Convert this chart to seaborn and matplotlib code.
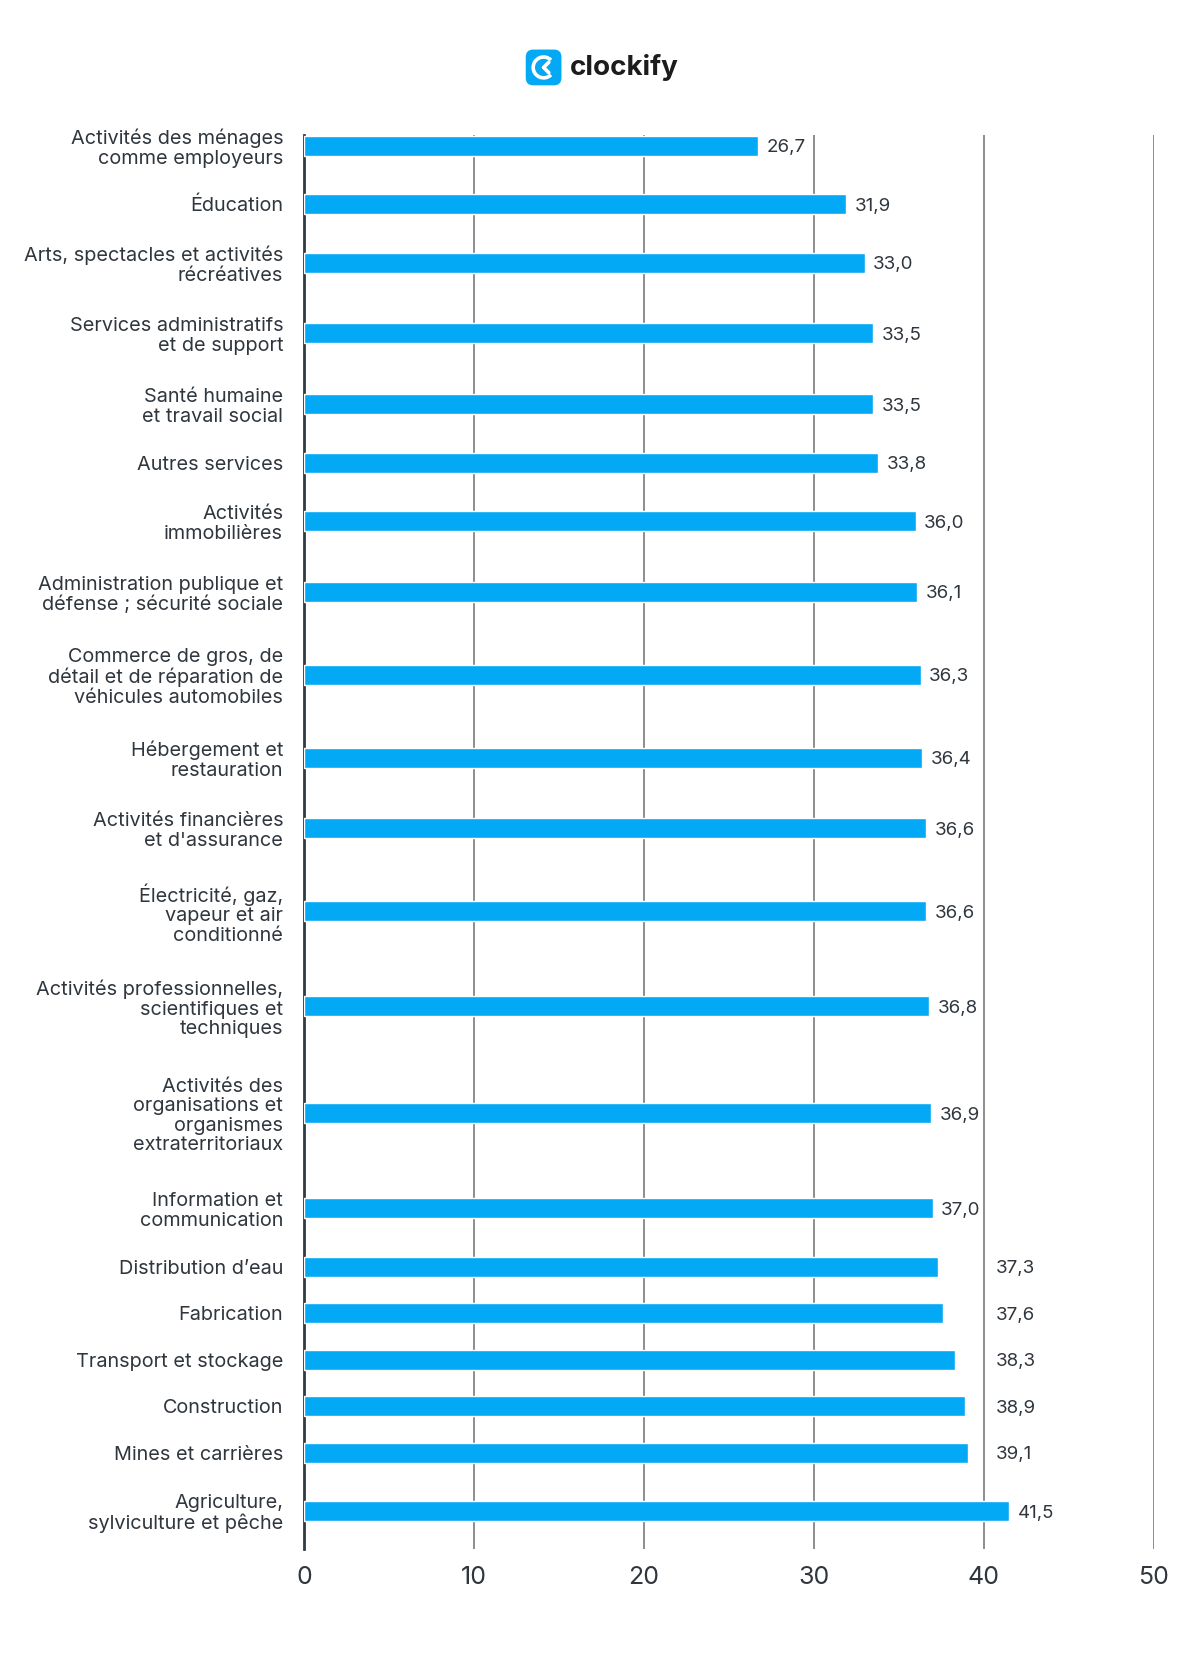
import numpy as np
import pandas as pd
import matplotlib
matplotlib.use("Agg")
import matplotlib.pyplot as plt
import seaborn as sns
from matplotlib.patches import FancyBboxPatch, Arc

secteurs = [
    "Activités des ménages\ncomme employeurs",
    "Éducation",
    "Arts, spectacles et activités\nrécréatives",
    "Services administratifs\net de support",
    "Santé humaine\net travail social",
    "Autres services",
    "Activités\nimmobilières",
    "Administration publique et\ndéfense ; sécurité sociale",
    "Commerce de gros, de\ndétail et de réparation de\nvéhicules automobiles",
    "Hébergement et\nrestauration",
    "Activités financières\net d'assurance",
    "Électricité, gaz,\nvapeur et air\nconditionné",
    "Activités professionnelles,\nscientifiques et\ntechniques",
    "Activités des\norganisations et\norganismes\nextraterritoriaux",
    "Information et\ncommunication",
    "Distribution d’eau",
    "Fabrication",
    "Transport et stockage",
    "Construction",
    "Mines et carrières",
    "Agriculture,\nsylviculture et pêche",
]
heures = [26.7, 31.9, 33.0, 33.5, 33.5, 33.8, 36.0, 36.1, 36.3, 36.4, 36.6,
          36.6, 36.8, 36.9, 37.0, 37.3, 37.6, 38.3, 38.9, 39.1, 41.5]
graduations = [0, 10, 20, 30, 40, 50]

# row spacing grows with the number of lines in the neighbouring labels
lignes = np.array([s.count("\n") + 1 for s in secteurs])
ecarts = 21 + 23 * (lignes[:-1] + lignes[1:]) / 2
pos = 10 + np.concatenate([[0], np.cumsum(ecarts)])

df = pd.DataFrame({"secteur": secteurs, "heures": heures, "pos": pos})

sns.set_theme(style="white")
plt.rcParams["font.family"] = ["Inter", "DejaVu Sans"]

bleu = "#03A9F4"
texte = "#2f363d"

fig = plt.figure(figsize=(12, 16.55), dpi=100)
ax = fig.add_axes([0.2533, 0.064, 0.708, 0.8544])

sns.barplot(data=df, x="heures", y="pos", orient="y", native_scale=True,
            color=bleu, width=0.43, saturation=1, ax=ax, zorder=3)

ax.set_xlim(0, 50)
ax.set_ylim(1340, 0)
ax.set_xticks(graduations)
ax.set_xticklabels([str(g) for g in graduations], fontsize=18, color=texte)
ax.set_yticks(pos)
ax.set_yticklabels(secteurs)
ax.tick_params(axis="x", length=0, pad=12)
ax.tick_params(axis="y", length=0, pad=15, labelsize=14.3, labelcolor=texte)
for lab in ax.get_yticklabels():
    lab.set_horizontalalignment("right")
    lab.set_multialignment("right")
    lab.set_linespacing(1.1)

for g in graduations[1:]:
    ax.axvline(g, color="#6f6f6f", lw=1.1, zorder=1)
for s in ["top", "right", "bottom"]:
    ax.spines[s].set_visible(False)
ax.spines["left"].set_color("#333a40")
ax.spines["left"].set_linewidth(2)
ax.set_xlabel("")
ax.set_ylabel("")

# value labels, pushed past a grid line when they would sit on it
renderer = fig.canvas.get_renderer()
for y, v in zip(pos, heures):
    t = ax.text(v + 0.5, y, f"{v:.1f}".replace(".", ","), va="center_baseline",
                ha="left", fontsize=13.5, color=texte, zorder=4)
    bb = t.get_window_extent(renderer).transformed(ax.transData.inverted())
    x0, x1 = min(bb.x0, bb.x1), max(bb.x0, bb.x1)
    for g in graduations[1:]:
        if x0 < g < x1:
            t.set_x(g + 0.7)

# logo clockify
iax = fig.add_axes([0.4375, 0.948, 0.031, 0.0225])
iax.set_xlim(0, 1)
iax.set_ylim(0, 1)
iax.axis("off")
iax.add_patch(FancyBboxPatch((0.02, 0.02), 0.96, 0.96,
                             boxstyle="round,pad=0,rounding_size=0.2",
                             fc=bleu, ec="none", transform=iax.transAxes))
iax.add_patch(Arc((0.5, 0.5), 0.56, 0.56, theta1=45, theta2=315,
                  color="white", lw=2.6, transform=iax.transAxes))
iax.plot([0.5, 0.64], [0.5, 0.64], color="white", lw=2.6, solid_capstyle="round")
iax.plot([0.5, 0.64], [0.5, 0.36], color="white", lw=2.6, solid_capstyle="round")
fig.text(0.475, 0.9592, "clockify", fontsize=20, fontweight="bold",
         color="#1c1c1c", va="center", ha="left")

fig.savefig("out.png", dpi=100, facecolor="white")
